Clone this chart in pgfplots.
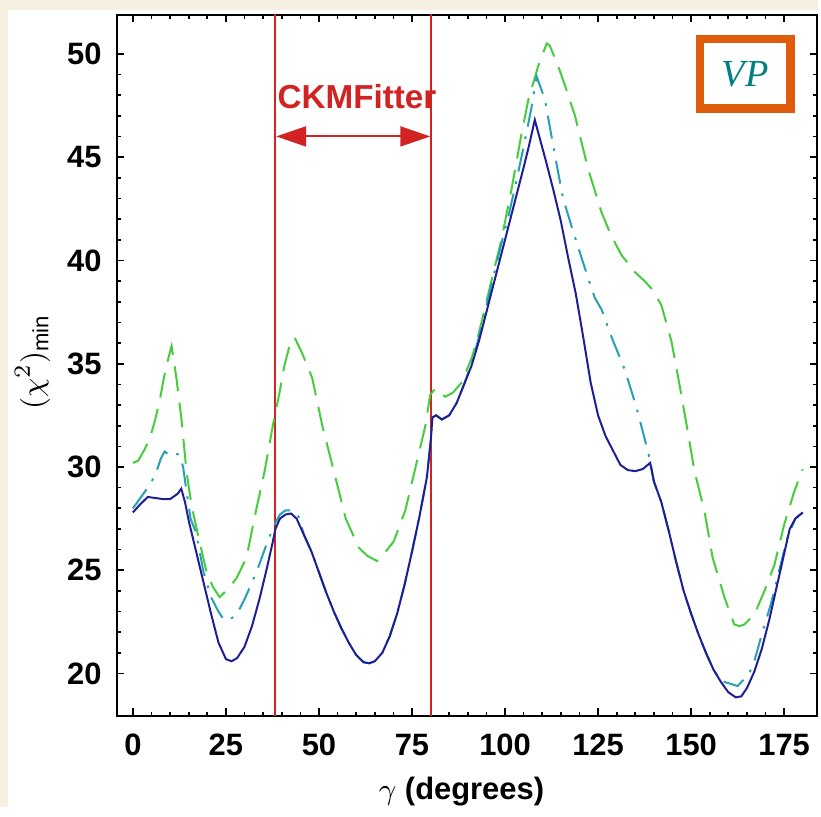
\documentclass[border=0pt]{standalone}
\usepackage{amsmath}
\usepackage{pgfplots}
\pgfplotsset{compat=1.18}
\usepackage{fontspec}
\setmainfont{Liberation Sans}
\newfontfamily\serifit{Liberation Serif}
\usetikzlibrary{arrows.meta}
\definecolor{bgbeige}{RGB}{247,239,224}
\definecolor{blueline}{RGB}{30,30,150}
\definecolor{cyanline}{RGB}{40,160,180}
\definecolor{greenline}{RGB}{70,205,60}
\definecolor{redc}{RGB}{210,35,35}
\definecolor{orangec}{RGB}{222,92,12}
\definecolor{tealc}{RGB}{0,128,128}

\pgfplotstableread{
x y
0 27.8
2 28.2
4 28.55
6 28.5
8 28.45
10 28.45
12 28.7
13 28.95
14 28.3
15 27.4
17 25.9
19 24.4
21 22.9
23 21.5
25 20.7
26.5 20.6
28 20.75
30 21.3
32 22.3
34 23.6
36 25.1
37.5 26.3
38.3 27.0
39.5 27.5
41 27.7
42.5 27.75
44 27.5
46 26.7
48 25.9
50 24.9
52 23.9
54 23.0
56 22.2
58 21.5
60 20.9
62 20.55
63.5 20.5
65 20.6
67 21.0
69 21.8
71 22.9
73 24.3
75 25.9
77 27.6
79 29.5
80 31.2
80.5 32.4
81.5 32.5
83 32.3
85 32.5
87 33.1
89 34.0
91 34.9
93 36.1
95 37.5
97 38.9
99 40.3
101 41.7
103 43.1
105 44.5
106.5 45.6
108 46.8
109.5 45.8
111 44.8
113 43.4
115 41.9
117 40.1
119 38.4
121 36.3
123 34.1
125 32.5
127 31.5
129 30.8
131 30.1
133 29.85
135 29.8
137 29.9
139 30.2
140 29.3
142 28.3
144 26.9
146 25.4
148 24.0
150 22.9
152 21.9
154 21.0
156 20.2
158 19.6
160 19.1
162 18.85
163.5 18.9
165 19.3
167 20.1
169 21.2
171 22.6
173 24.2
175 25.8
176.5 27.0
178 27.5
180 27.8
}\bluedata

\pgfplotstableread{
x y
0 28.0
2 28.5
4 29.0
6 29.6
7.5 30.4
8.5 30.75
10 30.55
11 30.65
12.5 30.6
13.5 30.0
14.5 28.7
15.5 27.5
17 26.8
19 24.9
21 23.7
23 23.0
24.5 22.6
26 22.6
28 22.9
30 23.6
32 24.4
34 25.3
36 26.3
38 27.2
39.5 27.7
41 27.9
43 27.9
44.5 27.6
46 26.7
48 25.9
50 24.9
52 23.9
54 23.0
56 22.2
58 21.5
60 20.9
62 20.55
63.5 20.5
65 20.6
67 21.0
69 21.8
71 22.9
73 24.3
75 25.9
77 27.6
79 29.5
80 31.2
80.5 32.4
81.5 32.5
83 32.3
85 32.5
87 33.1
89 34.0
91 35.0
93 36.3
95 37.8
97 39.3
99 40.8
101 42.2
103 43.8
105 45.5
107 47.3
108.5 48.9
110.7 47.8
113.4 45.1
115.6 43.0
118.3 41.4
121.5 39.6
124.1 38.2
126 37.6
128.6 36.3
132.2 34.7
135.3 32.9
137.9 31.1
139 30.3
140 29.3
142 28.3
144 26.9
146 25.4
148 24.0
150 22.9
152 21.9
154 21.0
156 20.2
158 19.65
159.8 19.55
162.5 19.4
165.6 20.0
167 20.6
169 21.9
171.4 23.35
173 24.5
175.9 26.6
178 27.5
180 27.8
}\cyandata

\pgfplotstableread{
x y
0 30.2
1.4 30.3
3 30.8
4.6 31.4
6 32.3
7.2 33.2
8.2 34.2
9 34.9
10.4 35.85
11.7 34.3
13 32.4
14.4 29.8
15.7 28.2
17.5 26.7
19.7 25.0
21.5 24.2
23.3 23.7
25 24.0
27.8 24.6
30.5 25.6
33.1 27.9
35.4 29.8
37.6 32.0
39.4 33.6
40.7 34.9
42.5 36.15
43.5 36.25
45.5 35.5
48.2 34.3
50.9 32.0
54 29.8
57.2 27.5
60.7 26.1
63 25.7
65.6 25.45
67 25.7
70.1 26.4
73.2 27.9
75.9 29.95
78.6 32.0
79.9 33.5
81.3 33.8
83.9 33.4
86 33.6
88.4 34.1
91.1 35.3
93 36.5
95 38.0
97 39.5
99.1 41.06
101.8 43.5
104.5 46.2
106.3 47.8
108.9 49.4
111.2 50.5
112 50.4
114.3 49.4
116.1 48.47
118.8 47.0
122.3 44.44
125.9 42.34
128.5 41.2
131.3 40.26
134.8 39.45
137.5 39.0
139.3 38.65
142 37.84
144.7 36.1
146.9 33.97
149.1 31.72
150.9 29.8
153.6 27.86
155.8 25.6
159 23.67
161.6 22.38
163 22.3
164.3 22.38
167 22.86
169.7 24.0
172.4 25.27
175 27.2
177.7 28.8
180 29.9
}\greendata

\begin{document}
\begin{tikzpicture}
\fill[bgbeige] (-35.1pt,-27.6pt) rectangle (211.2pt,215.4pt);
\fill[white] (-32.7pt,-27.6pt) rectangle (211.2pt,212.4pt);
\begin{axis}[
  scale only axis, width=210.9pt, height=210.9pt,
  xmin=-4.37, xmax=183.95, ymin=17.96, ymax=51.88,
  xtick={0,25,...,175}, xticklabels={0,25,50,75,100,125,150,175},
  ytick={20,25,...,50}, yticklabels={20,25,30,35,40,45,50},
  minor x tick num=4, minor y tick num=4,
  tick align=inside, major tick length=2.2pt, minor tick length=1.2pt,
  tick style={black, line width=0.5pt},
  axis line style={line width=0.6pt},
  ticklabel style={font=\bfseries\fontsize{9.3}{11}\selectfont},
  xticklabel style={yshift=-2pt},
  yticklabel style={xshift=-1pt},
  xlabel={$\gamma$ \textbf{(degrees)}},
  ylabel={$(\chi^{2})_{\text{min}}$},
  xlabel style={at={(axis description cs:0.492,-0.108)}, anchor=center, font=\fontsize{9.3}{11}\selectfont},
  ylabel style={at={(axis description cs:-0.12,0.505)}, anchor=center, font=\fontsize{9.5}{11}\selectfont},
]
\addplot[redc, line width=0.6pt] coordinates {(38.3,17) (38.3,53)};
\addplot[redc, line width=0.6pt] coordinates {(80.1,17) (80.1,53)};
\addplot[greenline, line width=0.6pt, dash pattern=on 7.5pt off 3.5pt] table[x=x,y=y] {\greendata};
\addplot[cyanline, line width=0.6pt, dash pattern=on 7pt off 3pt on 0.8pt off 3pt] table[x=x,y=y] {\cyandata};
\addplot[blueline, line width=0.6pt] table[x=x,y=y] {\bluedata};
\draw[redc, line width=0.6pt, {Triangle[length=9pt,width=6pt]}-{Triangle[length=9pt,width=6pt]}] (axis cs:38.5,46.0) -- (axis cs:79.9,46.0);
\node[text=redc, font=\bfseries\fontsize{10}{12}\selectfont] at (rel axis cs:0.343,0.883) {CKMFitter};
\node[draw=orangec, line width=2.5pt, fill=white, minimum width=27.2pt, minimum height=20.9pt, inner sep=0pt, text=tealc, font=\serifit\itshape\fontsize{11.5}{13}\selectfont] at (rel axis cs:0.897,0.916) {VP};
\end{axis}
\end{tikzpicture}
\end{document}
